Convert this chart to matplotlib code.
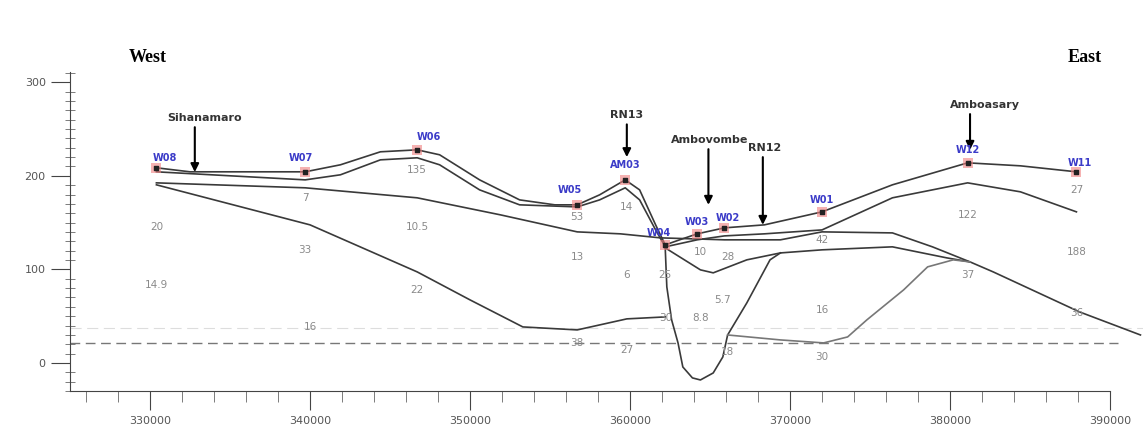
import matplotlib
matplotlib.use('agg')
import matplotlib.pyplot as plt
from matplotlib.ticker import MultipleLocator, FixedLocator

# ---- data read off the section (x: easting m, y: elevation m) ----
# ground surface
top_x = [330400, 332500, 339700, 341900, 344400, 346700, 348100, 350600, 353100, 355300,
         356700, 358100, 359700, 360600, 361600, 362200, 363100, 364200, 365900, 368400,
         372000, 376400, 381100, 384400, 387900]
top_y = [208.6, 204.3, 204.3, 211.8, 225.7, 227.8, 222.5, 195.7, 174.3, 169,
         169, 179.7, 195.7, 185, 147.6, 126.2, 131.6, 138, 144.4, 147.6,
         161.5, 190.4, 213.9, 210.7, 204.3]

# second interface
l2_x = [330400, 339700, 341900, 344400, 346700, 348100, 350600, 353100, 356700, 358100,
        359700, 360600, 361600, 362200, 364200, 365900, 368400, 372000, 376400, 381100,
        384400, 387900]
l2_y = [204.3, 195.7, 201.1, 217.1, 219.3, 211.8, 185, 169, 166.8, 174.3,
        187.2, 174.3, 142.2, 124.1, 131.6, 135.8, 138, 142.2, 176.5, 192.5,
        182.9, 161.5]

# third interface
l3_x = [330400, 339700, 346700, 351900, 356700, 359400, 361900, 365900, 369400, 372000,
        376400, 378900, 381250, 382700, 388100, 391900]
l3_y = [192.5, 187.2, 176.5, 158.3, 140.1, 138, 133.7, 131.6, 131.6, 140.1,
        139, 124.1, 108, 97.3, 54.5, 29.9]

# dipping surface east of W04
dip_x = [362200, 364400, 365200, 367300, 369400, 372000, 376400, 379800, 381250]
dip_y = [123, 99.5, 96.3, 110.2, 117.6, 120.9, 124.1, 112.3, 108]

# western diagonal surface
diag_x = [330400, 340000, 346700, 350000, 353300, 356700, 359800, 362200]
diag_y = [190.4, 147.6, 97.3, 67.4, 38.5, 35.3, 47.1, 49.2]

# trough at Ambovombe
tr_x = [362200, 362300, 362600, 363000, 363300, 363900, 364400, 365200, 365800, 366100,
        367300, 368750, 369400]
tr_y = [123, 81.3, 46, 21.4, -4.3, -16, -18.2, -10.7, 6.4, 29.9,
        64.2, 110.2, 117.6]

# eastern basal curve
base_x = [366100, 369400, 372100, 373600, 374800, 377100, 378600, 380200, 381250]
base_y = [29.9, 24.6, 21.4, 27.8, 46, 78.1, 102.7, 110.2, 108]

# wells
wells = ['W08', 'W07', 'W06', 'W05', 'AM03', 'W04', 'W03', 'W02', 'W01', 'W12', 'W11']
well_x = [330400, 339700, 346700, 356700, 359700, 362200, 364200, 365900, 372000, 381100, 387900]
well_top = [208.6, 204.3, 227.8, 169, 195.7, 126.2, 138, 144.4, 161.5, 213.9, 204.3]
label_x = [330900, 339400, 347400, 356250, 359700, 361800, 364200, 366100, 372000, 381100, 388100]
label_y = [219.3, 219.3, 241.7, 185, 211.8, 139, 150.8, 155.1, 174.3, 227.8, 213.9]

# thickness values
thick = [('20', 330400, 145.5), ('14.9', 330400, 83.4), ('7', 339700, 176.5),
         ('33', 339700, 120.9), ('16', 340000, 38.5), ('135', 346700, 206.4),
         ('10.5', 346700, 145.5), ('22', 346700, 78.1), ('53', 356700, 156.1),
         ('13', 356700, 113.4), ('38', 356700, 21.4), ('14', 359800, 166.8),
         ('6', 359800, 94.1), ('27', 359800, 13.9), ('25', 362200, 94.1),
         ('30', 362200, 48.1), ('10', 364400, 118.7), ('8.8', 364400, 48.1),
         ('28', 366100, 113.4), ('5.7', 365800, 67.4), ('18', 366100, 11.8),
         ('42', 372000, 131.6), ('16', 372000, 56.7), ('30', 372000, 6.4),
         ('122', 381100, 158.3), ('37', 381100, 94.1), ('27', 387900, 185),
         ('188', 387900, 118.7), ('36', 387900, 53.5)]

# places (name, text x, text y, arrow x, arrow tip y)
places = [('Sihanamaro', 333400, 262, 332800, 204),
          ('RN13', 359800, 265, 359800, 220),
          ('Ambovombe', 365000, 238.5, 364900, 169),
          ('RN12', 368400, 230, 368300, 147.6),
          ('Amboasary', 382200, 276, 381250, 227.8)]

water_level = 21.4
faint_level = 37

fig = plt.figure(figsize=(11.43, 4.47), dpi=100)
ax = fig.add_axes([70/1143, 56/447, 1073/1143, 319/447])

lc = '#3a3a3a'
for xs, ys in [(top_x, top_y), (l2_x, l2_y), (l3_x, l3_y), (dip_x, dip_y),
               (diag_x, diag_y), (tr_x, tr_y)]:
    ax.plot(xs, ys, color=lc, lw=1.2, clip_on=False, zorder=3)
ax.plot(base_x, base_y, color='#777777', lw=1.2, zorder=3)

ax.axhline(water_level, xmax=(390500-325000)/(392060-325000), color='#777777',
           lw=1.0, ls=(0, (7, 4)), zorder=2)
ax.axhline(faint_level, color='#dddddd', lw=0.8, ls=(0, (10, 5)), zorder=1)

ax.scatter(well_x, well_top, s=45, marker='s', color='#f08080', alpha=0.6, zorder=4, lw=0)
ax.scatter(well_x, well_top, s=12, marker='s', color='#222222', zorder=5)

for name, x, y in zip(wells, label_x, label_y):
    ax.text(x, y, name, color='#3b3bc8', fontsize=7, fontweight='bold',
            ha='center', va='center', zorder=6)

for t, x, y in thick:
    ax.text(x, y, t, color='#8a8a8a', fontsize=7.5, ha='center', va='center')

for name, tx, ty, axx, ay in places:
    ax.annotate('', xy=(axx, ay), xytext=(axx, ty - 10),
                arrowprops=dict(arrowstyle='-|>', color='black', lw=1.5,
                                mutation_scale=12, shrinkA=0, shrinkB=0))
    ax.text(tx, ty, name, fontsize=8, fontweight='bold', color='#333333',
            ha='center', va='center')

ax.set_xlim(325000, 392060)
ax.set_ylim(-30, 311)
for s in ['top', 'right']:
    ax.spines[s].set_visible(False)
ax.spines['bottom'].set_bounds(325000, 390000)
ax.spines['left'].set_color('#444444')
ax.spines['bottom'].set_color('#444444')

ax.set_xticks([330000, 340000, 350000, 360000, 370000, 380000, 390000])
ax.xaxis.set_minor_locator(FixedLocator(list(range(326000, 390001, 2000))))
ax.set_yticks([0, 100, 200, 300])
ax.yaxis.set_minor_locator(MultipleLocator(10))
ax.tick_params(axis='x', which='major', length=14, color='#444444', labelsize=8,
               labelcolor='#555555', pad=4)
ax.tick_params(axis='x', which='minor', length=8, color='#666666')
ax.tick_params(axis='y', which='major', length=14, color='#444444', labelsize=8,
               labelcolor='#555555')
ax.tick_params(axis='y', which='minor', direction='inout', length=7, color='#666666')

fig.text(148/1143, 1 - 57/447, 'West', family='Liberation Serif', fontweight='bold',
         fontsize=13, ha='center', va='center')
fig.text(1085/1143, 1 - 57/447, 'East', family='Liberation Serif', fontweight='bold',
         fontsize=13, ha='center', va='center')

plt.savefig('out.png', dpi=100)
